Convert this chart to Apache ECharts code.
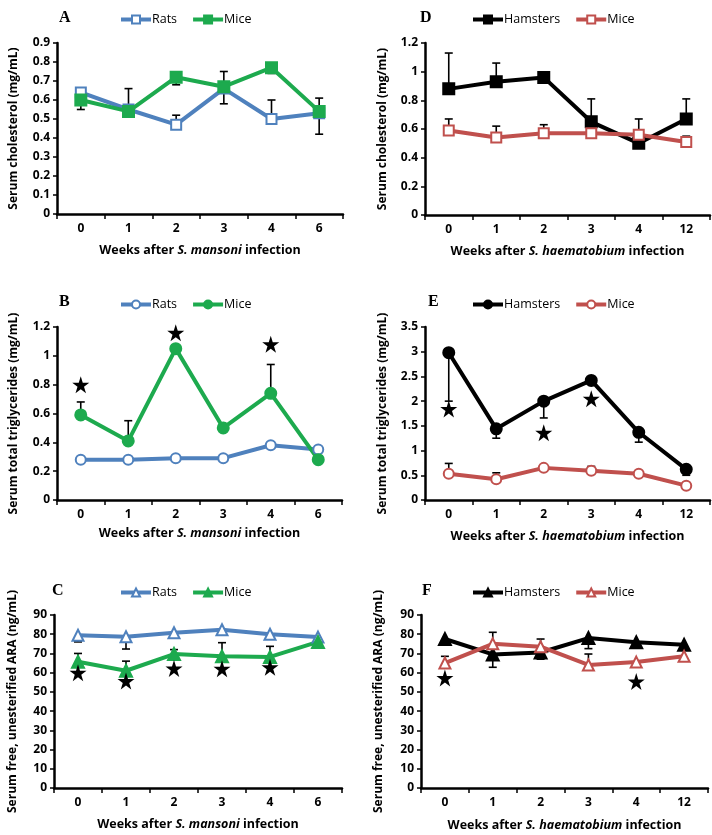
<!DOCTYPE html>
<html>
<head>
<meta charset="UTF-8">
<title>Serum lipids after Schistosoma infection</title>
<script src="https://cdn.jsdelivr.net/npm/echarts@6/dist/echarts.min.js"></script>
<style>
html,body{margin:0;padding:0;background:#fff;}
#chart{width:712px;height:835px;}
</style>
</head>
<body>
<div id="chart"></div>
<script>
// categories
var weeksMansoni = ['0','1','2','3','4','6'];
var weeksHaema = ['0','1','2','3','4','12'];

// A - cholesterol, S. mansoni
var cholRats = [0.64, 0.55, 0.47, 0.66, 0.50, 0.53];
var cholRatsHi = [0.66, 0.66, 0.52, 0.75, 0.60, 0.61];
var cholRatsLo = [null, null, null, 0.58, null, 0.42];
var cholMiceM = [0.60, 0.54, 0.72, 0.67, 0.77, 0.54];
var cholMiceMLo = [0.55, null, 0.68, null, 0.74, null];

// B - triglycerides, S. mansoni
var tgRats = [0.28, 0.28, 0.29, 0.29, 0.38, 0.35];
var tgRatsHi = [null, null, null, null, null, 0.36];
var tgMiceM = [0.59, 0.41, 1.05, 0.50, 0.74, 0.28];
var tgMiceMHi = [0.68, 0.55, null, null, 0.94, null];
var tgStarsM = [0.80, null, 1.16, null, 1.08, null];

// C - free ARA, S. mansoni
var araRats = [79.5, 78.7, 80.8, 82.3, 80.0, 78.5];
var araRatsLo = [76.0, 72.3, 79.0, 80.0, 78.0, null];
var araMiceM = [65.7, 61.0, 69.7, 68.5, 68.2, 76.0];
var araMiceMHi = [70.0, 66.0, 72.0, 75.6, 73.7, null];
var araStarsM = [60.0, 55.7, 62.2, 62.0, 62.8, null];

// D - cholesterol, S. haematobium
var cholHam = [0.88, 0.93, 0.96, 0.65, 0.50, 0.67];
var cholHamHi = [1.13, 1.06, null, 0.81, null, 0.81];
var cholMiceH = [0.59, 0.54, 0.57, 0.57, 0.56, 0.51];
var cholMiceHHi = [0.67, 0.62, 0.63, null, 0.67, 0.55];

// E - triglycerides, S. haematobium
var tgHam = [2.98, 1.44, 2.00, 2.42, 1.37, 0.62];
var tgHamLo = [2.00, 1.25, 1.66, null, 1.17, 0.50];
var tgMiceH = [0.53, 0.42, 0.65, 0.59, 0.53, 0.29];
var tgMiceHHi = [0.74, 0.55, null, 0.68, null, 0.35];
var tgStarsH = [1.84, null, 1.36, 2.05, null, null];

// F - free ARA, S. haematobium
var araHam = [77.5, 69.5, 70.5, 78.0, 75.8, 74.5];
var araHamLo = [null, 62.8, null, 72.5, 74.5, null];
var araMiceH = [65.0, 75.0, 73.5, 64.0, 65.5, 68.5];
var araMiceHHi = [68.5, 81.0, 77.5, 69.7, null, null];
var araMiceHLo = [null, null, 67.0, null, null, null];
var araStarsH = [57.2, null, null, null, 55.4, null];

var BLUE = '#4F81BD', GREEN = '#1DAA4E', RED = '#C0504D', BLACK = '#000';
var STAR = 'path://M50,0 L61.2,34.5 L97.6,34.5 L68.2,55.9 L79.4,90.5 L50,69.1 L20.6,90.5 L31.8,55.9 L2.4,34.5 L38.8,34.5 Z';
var FONT = 'Open Sans';

var chart = echarts.init(document.getElementById('chart'));

var grids = [], xAxes = [], yAxes = [], series = [], legends = [], titles = [];

function errData(vals, ends) {
    var out = [];
    for (var i = 0; i < vals.length; i++) {
        if (ends[i] != null) out.push([i, vals[i], ends[i]]);
    }
    return out;
}

function starData(vals) {
    var out = [];
    for (var i = 0; i < vals.length; i++) {
        if (vals[i] != null) out.push([i, vals[i]]);
    }
    return out;
}

function renderErr(params, api) {
    var p0 = api.coord([api.value(0), api.value(1)]);
    var p1 = api.coord([api.value(0), api.value(2)]);
    var st = {stroke: '#000', lineWidth: 1.6};
    return {type: 'group', children: [
        {type: 'line', shape: {x1: p0[0], y1: p0[1], x2: p1[0], y2: p1[1]}, style: st},
        {type: 'line', shape: {x1: p1[0] - 4, y1: p1[1], x2: p1[0] + 4, y2: p1[1]}, style: st}
    ]};
}

function addPanel(p) {
    var idx = grids.length;
    grids.push(p.grid);
    xAxes.push({
        type: 'category', gridIndex: idx, data: p.cats, boundaryGap: true,
        axisLine: {lineStyle: {color: '#000', width: 2.5}},
        axisTick: {show: true, interval: 0, length: 5, lineStyle: {color: '#000', width: 1.5}},
        axisLabel: {color: '#000', fontFamily: FONT, fontWeight: 'bold', fontSize: 12, margin: 9},
        name: '{b|Weeks after }{i|' + p.species + '}{b| infection}',
        nameLocation: 'middle', nameGap: p.xGap,
        nameTextStyle: {rich: {
            b: {fontFamily: FONT, fontWeight: 'bold', fontSize: 12.5, color: '#000'},
            i: {fontFamily: FONT, fontWeight: 'bold', fontStyle: 'italic', fontSize: 12.5, color: '#000'}
        }}
    });
    yAxes.push({
        type: 'value', gridIndex: idx, min: 0, max: p.max, interval: p.step,
        axisLine: {show: true, lineStyle: {color: '#000', width: 2.5}},
        axisTick: {show: true, length: 4, lineStyle: {color: '#000', width: 1.5}},
        splitLine: {show: false},
        axisLabel: {color: '#000', fontFamily: FONT, fontWeight: 'bold', fontSize: 12, margin: 7},
        name: p.yName, nameLocation: 'middle', nameGap: p.yGap,
        nameTextStyle: {fontFamily: FONT, fontWeight: 'bold', fontSize: 12, color: '#000'}
    });
    titles.push({text: p.letter, left: p.letterPos[0], top: p.letterPos[1],
        textStyle: {fontFamily: 'Liberation Serif', fontWeight: 'bold', fontSize: 16, color: '#000'}});
    var names = [];
    p.lines.forEach(function (l) {
        var nm = l.name + '_' + p.letter;
        names.push(nm);
        l.errs.forEach(function (e) {
            series.push({
                type: 'custom', xAxisIndex: idx, yAxisIndex: idx, renderItem: renderErr,
                data: errData(l.data, e), encode: {x: 0, y: [1, 2]}, z: 1, silent: true
            });
        });
        series.push({
            type: 'line', name: nm, xAxisIndex: idx, yAxisIndex: idx, data: l.data,
            symbol: l.symbol, symbolSize: l.size, showAllSymbol: true,
            lineStyle: {color: l.color, width: 4},
            itemStyle: {color: l.color, borderColor: l.color, borderWidth: 2},
            z: 3
        });
    });
    if (p.stars) {
        series.push({
            type: 'scatter', xAxisIndex: idx, yAxisIndex: idx, data: starData(p.stars),
            symbol: STAR, symbolSize: 17, itemStyle: {color: '#000', opacity: 1}, z: 5, silent: true
        });
    }
    legends.push({
        data: names, left: p.legendPos[0], top: p.legendPos[1], itemWidth: 30, itemHeight: 10, itemGap: 14,
        formatter: function (n) { return n.split('_')[0]; },
        lineStyle: {width: 4},
        textStyle: {fontFamily: FONT, fontSize: 12.5, color: '#000', padding: [0, 0, 0, -4]},
        selectedMode: false
    });
}

addPanel({
    letter: 'A', letterPos: [54, 5], legendPos: [114, 8],
    grid: {left: 57, top: 43, width: 286, height: 171},
    cats: weeksMansoni, species: 'S. mansoni', max: 0.9, step: 0.1,
    yName: 'Serum cholesterol (mg/mL)', yGap: 37, xGap: 30,
    lines: [
        {name: 'Rats', data: cholRats, color: BLUE, symbol: 'emptyRect', size: 10, errs: [cholRatsHi, cholRatsLo]},
        {name: 'Mice', data: cholMiceM, color: GREEN, symbol: 'rect', size: 11, errs: [cholMiceMLo]}
    ]
});
addPanel({
    letter: 'D', letterPos: [415, 5], legendPos: [466, 8],
    grid: {left: 425, top: 43, width: 285, height: 172},
    cats: weeksHaema, species: 'S. haematobium', max: 1.2, step: 0.2,
    yName: 'Serum cholesterol (mg/mL)', yGap: 36, xGap: 30,
    lines: [
        {name: 'Hamsters', data: cholHam, color: BLACK, symbol: 'rect', size: 11, errs: [cholHamHi]},
        {name: 'Mice', data: cholMiceH, color: RED, symbol: 'emptyRect', size: 10, errs: [cholMiceHHi]}
    ]
});
addPanel({
    letter: 'B', letterPos: [54, 289], legendPos: [114, 293],
    grid: {left: 57, top: 327, width: 285, height: 173},
    cats: weeksMansoni, species: 'S. mansoni', max: 1.2, step: 0.2,
    yName: 'Serum total triglycerides (mg/mL)', yGap: 37, xGap: 27,
    stars: tgStarsM,
    lines: [
        {name: 'Rats', data: tgRats, color: BLUE, symbol: 'emptyCircle', size: 10, errs: [tgRatsHi]},
        {name: 'Mice', data: tgMiceM, color: GREEN, symbol: 'circle', size: 11, errs: [tgMiceMHi]}
    ]
});
addPanel({
    letter: 'E', letterPos: [423, 289], legendPos: [466, 293],
    grid: {left: 425, top: 327, width: 285, height: 173},
    cats: weeksHaema, species: 'S. haematobium', max: 3.5, step: 0.5,
    yName: 'Serum total triglycerides (mg/mL)', yGap: 36, xGap: 30,
    stars: tgStarsH,
    lines: [
        {name: 'Hamsters', data: tgHam, color: BLACK, symbol: 'circle', size: 11, errs: [tgHamLo]},
        {name: 'Mice', data: tgMiceH, color: RED, symbol: 'emptyCircle', size: 10, errs: [tgMiceHHi]}
    ]
});
addPanel({
    letter: 'C', letterPos: [47, 578], legendPos: [114, 581],
    grid: {left: 54, top: 615, width: 288, height: 173},
    cats: weeksMansoni, species: 'S. mansoni', max: 90, step: 10,
    yName: 'Serum free, unesterified ARA (ng/mL)', yGap: 35, xGap: 30,
    stars: araStarsM,
    lines: [
        {name: 'Rats', data: araRats, color: BLUE, symbol: 'emptyTriangle', size: 11, errs: [araRatsLo]},
        {name: 'Mice', data: araMiceM, color: GREEN, symbol: 'triangle', size: 12, errs: [araMiceMHi]}
    ]
});
addPanel({
    letter: 'F', letterPos: [417, 578], legendPos: [466, 581],
    grid: {left: 421, top: 615, width: 287, height: 173},
    cats: weeksHaema, species: 'S. haematobium', max: 90, step: 10,
    yName: 'Serum free, unesterified ARA (ng/mL)', yGap: 36, xGap: 31,
    stars: araStarsH,
    lines: [
        {name: 'Hamsters', data: araHam, color: BLACK, symbol: 'triangle', size: 12, errs: [araHamLo]},
        {name: 'Mice', data: araMiceH, color: RED, symbol: 'emptyTriangle', size: 11, errs: [araMiceHHi, araMiceHLo]}
    ]
});

chart.setOption({
    animation: false,
    backgroundColor: '#fff',
    title: titles,
    legend: legends,
    grid: grids,
    xAxis: xAxes,
    yAxis: yAxes,
    series: series
});
</script>
</body>
</html>
